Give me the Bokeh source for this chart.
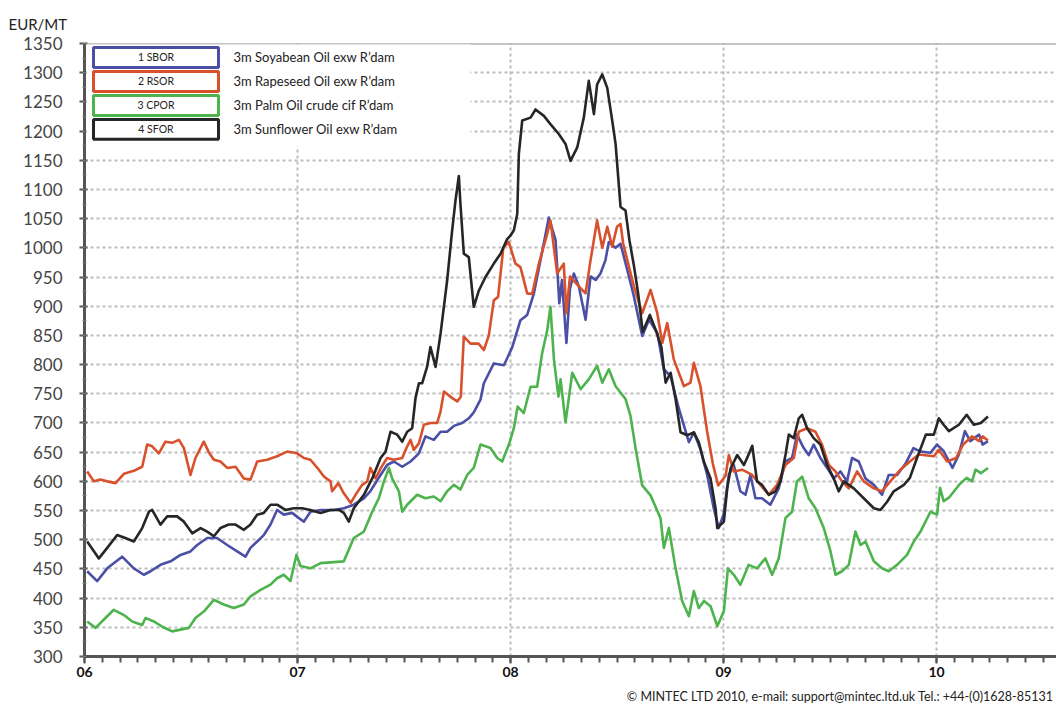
from bokeh.plotting import figure
from bokeh.models import FixedTicker, Label, BoxAnnotation, Span, Range1d, Title
from bokeh.embed import file_html
from bokeh.resources import INLINE

# time axis: months since January 2006
sbor_pts = [(0.15,446),(0.71,429),(1.28,451),(2.12,471),(2.78,451),(3.34,440),(3.72,446),(4.28,457),(4.85,463),(5.41,474),
            (5.97,480),(6.35,491),(6.91,503),(7.47,503),(8.04,491),(8.6,480),(9.07,471),(9.35,486),(9.73,497),(10.1,508),
            (10.48,526),(10.85,551),(11.23,543),(11.7,546),(12.08,537),(12.36,531),(12.73,548),(13.3,551),(14.05,551),(14.61,554),
            (15.17,560),(15.74,571),(16.1,583),(16.68,611),(17.05,628),(17.43,634),(17.9,625),(18.37,634),(18.84,648),(19.21,677),
            (19.68,671),(20.06,685),(20.43,685),(20.81,695),(21.28,700),(21.65,708),(21.93,718),(22.31,740),(22.5,768),(23.06,802),
            (23.63,799),(24.1,830),(24.56,876),(24.94,885),(25.32,922),(25.69,979),(26.16,1052),(26.54,1013),(26.75,905),(26.9,945),
            (27.15,837),(27.35,930),(27.57,956),(27.85,934),(28.23,877),(28.51,951),(28.8,945),(29.07,956),(29.35,979),(29.54,1010),
            (29.92,1000),(30.2,1007),(30.58,962),(30.95,917),(31.42,849),(31.8,877),(32.27,854),(32.64,792),(33.02,780),(33.49,724),
            (34.05,667),(34.33,684),(34.7,655),(35.08,611),(35.45,554),(35.73,520),(36.0,543),(36.3,611),(36.58,628),(36.95,583),
            (37.24,577),(37.52,611),(37.8,571),(38.17,571),(38.64,560),(39.11,588),(39.49,634),(39.86,640),(40.14,680),(40.52,657),
            (40.8,645),(41.08,663),(41.46,640),(41.84,623),(42.21,605),(42.59,617),(42.96,600),(43.24,640),(43.62,634),(44.0,605),
            (44.47,594),(44.93,577),(45.31,611),(45.78,611),(46.25,630),(46.7,657),(47.1,651),(47.66,649),(48.03,663),(48.4,652),
            (48.9,623),(49.26,646),(49.6,686),(49.9,669),(50.4,680),(50.6,663),(50.9,669)]

rsor_pts = [(0.15,617),(0.53,600),(0.9,603),(1.28,600),(1.75,597),(2.22,613),(2.78,618),(3.25,625),(3.53,663),(3.81,660),
            (4.19,648),(4.56,668),(4.94,666),(5.32,671),(5.6,657),(5.97,611),(6.25,640),(6.72,668),(7.0,650),(7.29,637),
            (7.66,634),(8.04,623),(8.51,625),(8.98,605),(9.35,603),(9.73,634),(10.29,637),(10.85,643),(11.42,651),(11.98,648),
            (12.36,640),(12.73,637),(13.2,620),(13.5,608),(13.86,600),(13.95,583),(14.3,597),(14.6,580),(15.0,563),(15.27,577),
            (15.64,594),(15.93,600),(16.1,623),(16.4,605),(16.7,623),(17.05,640),(17.43,637),(17.9,640),(18.18,660),(18.37,671),
            (18.55,654),(18.84,665),(19.12,697),(19.5,700),(19.87,700),(20.06,720),(20.25,754),(20.7,743),(21.0,737),(21.2,745),
            (21.37,848),(21.75,836),(22.2,836),(22.5,825),(22.78,850),(23.06,910),(23.3,916),(23.6,1001),(23.9,1010),(24.28,973),
            (24.56,967),(24.94,922),(25.22,921),(25.6,973),(26.07,1024),(26.25,1047),(26.63,956),(27.0,973),(27.15,888),(27.35,951),
            (27.85,934),(28.23,922),(28.51,979),(28.88,1047),(29.17,1000),(29.45,1036),(29.73,1002),(30.0,1036),(30.2,1041),(30.35,1007),
            (30.58,979),(30.95,934),(31.42,888),(31.89,928),(32.27,888),(32.55,837),(32.83,871),(33.2,809),(33.77,763),(34.14,769),
            (34.33,803),(34.7,763),(35.08,685),(35.4,630),(35.7,593),(36.0,605),(36.12,610),(36.3,645),(36.58,617),(37.05,620),
            (37.61,611),(38.08,594),(38.55,577),(39.02,594),(39.49,628),(39.96,640),(40.24,685),(40.71,691),(41.18,685),(41.55,663),
            (41.93,628),(42.31,617),(42.68,600),(43.06,588),(43.53,617),(43.9,600),(44.47,588),(44.93,583),(45.4,600),(45.97,620),
            (46.5,634),(47.0,646),(47.85,643),(48.13,654),(48.6,634),(49.1,640),(49.5,663),(50.0,677),(50.4,669),(50.6,677),(50.9,670)]

cpor_pts = [(0.15,360),(0.62,349),(1.18,366),(1.65,380),(2.22,371),(2.69,360),(3.25,354),(3.44,366),(3.91,360),(4.38,351),
            (4.94,343),(5.41,346),(5.88,349),(6.25,366),(6.72,377),(7.29,397),(7.85,389),(8.41,383),(8.98,389),(9.35,403),
            (9.92,414),(10.48,423),(10.85,434),(11.23,440),(11.6,429),(11.94,474),(12.17,455),(12.73,451),(13.3,460),(14.61,463),
            (15.17,503),(15.74,514),(16.21,548),(16.58,571),(16.87,600),(17.15,623),(17.33,605),(17.71,583),(17.9,548),(18.18,560),
            (18.74,577),(19.21,571),(19.68,574),(20.06,566),(20.43,583),(20.81,594),(21.18,586),(21.56,611),(21.93,623),(22.31,663),
            (22.87,657),(23.25,640),(23.53,634),(23.91,663),(24.19,691),(24.4,728),(24.75,717),(25.13,762),(25.5,762),(25.78,819),
            (26.07,859),(26.25,899),(26.45,808),(26.7,745),(26.82,775),(27.1,701),(27.48,786),(27.95,758),(28.42,775),(28.88,798),
            (29.17,769),(29.54,792),(29.92,763),(30.48,741),(30.76,712),(31.05,656),(31.42,593),(31.89,576),(32.45,537),(32.64,486),
            (32.92,520),(33.3,451),(33.67,395),(34.05,369),(34.33,412),(34.61,383),(34.9,395),(35.27,386),(35.65,352),(36.02,378),
            (36.25,451),(36.58,440),(36.95,423),(37.42,457),(37.89,451),(38.36,468),(38.74,440),(39.11,468),(39.49,537),(39.86,548),
            (40.14,600),(40.43,608),(40.8,571),(41.18,554),(41.65,520),(42.03,480),(42.31,440),(42.68,446),(43.06,457),(43.43,514),
            (43.72,491),(44.0,497),(44.47,463),(44.93,451),(45.31,446),(45.78,457),(46.34,474),(46.72,497),(47.1,514),(47.66,548),
            (48.03,543),(48.2,589),(48.4,566),(48.7,572),(49.3,595),(49.7,606),(50.0,600),(50.2,620),(50.5,614),(50.9,623)]

sfor_pts = [(0.15,497),(0.81,468),(1.28,486),(1.84,508),(2.3,503),(2.78,497),(3.25,520),(3.63,548),(3.81,551),(4.28,526),
            (4.66,540),(5.22,540),(5.6,531),(6.07,511),(6.54,520),(6.91,514),(7.29,506),(7.66,520),(8.13,526),(8.51,526),
            (8.98,517),(9.35,526),(9.73,543),(10.1,546),(10.48,560),(10.85,560),(11.32,551),(11.79,554),(12.26,554),(12.73,551),
            (13.3,546),(13.86,551),(14.33,551),(14.61,546),(14.89,531),(15.17,554),(15.74,577),(16.21,605),(16.68,640),(16.96,651),
            (17.24,685),(17.62,680),(17.9,668),(18.18,685),(18.46,691),(18.65,743),(18.84,768),(19.02,768),(19.3,796),(19.49,830),
            (19.78,796),(20.06,853),(20.43,944),(20.71,1029),(20.9,1081),(21.09,1123),(21.18,1075),(21.37,990),(21.65,984),(21.93,899),
            (22.22,927),(22.59,950),(23.06,973),(23.44,990),(23.81,1015),(24.0,1021),(24.19,1030),(24.38,1058),(24.47,1161),(24.66,1218),
            (25.13,1223),(25.41,1237),(25.88,1226),(26.25,1212),(26.72,1195),(27.1,1178),(27.38,1149),(27.76,1172),(28.13,1223),(28.41,1286),
            (28.7,1229),(28.88,1280),(29.17,1297),(29.45,1274),(29.73,1218),(29.92,1178),(30.2,1070),(30.48,1064),(30.7,1013),(30.95,970),
            (31.2,920),(31.45,856),(31.85,885),(32.2,858),(32.5,830),(32.74,769),(33.02,786),(33.3,741),(33.58,684),(33.96,679),
            (34.33,684),(34.61,667),(34.9,633),(35.27,605),(35.55,554),(35.65,520),(36.02,531),(36.21,588),(36.4,622),(36.77,645),
            (37.15,628),(37.33,640),(37.62,661),(37.89,600),(38.17,594),(38.55,577),(38.93,583),(39.21,600),(39.49,645),(39.68,680),
            (39.96,674),(40.24,708),(40.43,714),(40.71,691),(41.08,674),(41.46,663),(41.84,628),(42.21,605),(42.49,583),(42.78,600),
            (43.34,588),(43.9,571),(44.47,554),(44.84,551),(45.22,565),(45.59,583),(46.16,594),(46.5,606),(46.9,640),(47.4,680),
            (47.85,680),(48.13,708),(48.4,697),(48.7,686),(49.26,697),(49.7,714),(50.1,697),(50.5,700),(50.9,711)]

codes = ["1 SBOR", "2 RSOR", "3 CPOR", "4 SFOR"]
names = ["3m Soyabean Oil exw R\u2019dam", "3m Rapeseed Oil exw R\u2019dam",
         "3m Palm Oil crude cif R\u2019dam", "3m Sunflower Oil exw R\u2019dam"]
colors = ["#4b4fa6", "#d9512c", "#4db34d", "#262626"]
series = [sbor_pts, rsor_pts, cpor_pts, sfor_pts]

year_ticks = [0, 12, 24, 36, 48]
year_labels = ["06", "07", "08", "09", "10"]
y_ticks = list(range(300, 1351, 50))
unit_text = "EUR/MT"
footer_text = "\u00a9 MINTEC LTD 2010, e-mail: support@mintec.ltd.uk  Tel.: +44-(0)1628-85131"

FONT = "Lato"
W, H = 1056, 711
LEFT, TOP, BOTTOM = 84, 43, 54
X_END = (W - LEFT) / 17.75
Y0, Y1 = 300, 1350

p = figure(width=W, height=H, output_backend="svg", toolbar_location=None,
           x_range=Range1d(0, X_END), y_range=Range1d(Y0, Y1),
           min_border_left=LEFT, min_border_top=TOP, min_border_bottom=BOTTOM,
           min_border_right=0, background_fill_color="white", border_fill_color="white")
p.outline_line_color = None

# page pixel -> data helpers for decorations
FX0, FY0 = LEFT, TOP
FW, FH = W - LEFT, H - TOP - BOTTOM
def xd(px):
    return (px - FX0) / FW * X_END
def yd(py):
    return Y1 - (py - FY0) / FH * (Y1 - Y0)

# unit label (above) and footer (below)
p.add_layout(Title(text=unit_text, align="left", offset=-76, standoff=22,
                   text_font=FONT, text_font_size="15px", text_font_style="normal",
                   text_color="#222222"), "above")

# axes
p.xaxis.ticker = FixedTicker(ticks=year_ticks, minor_ticks=list(range(0, 60)))
p.xaxis.major_label_overrides = {t: l for t, l in zip(year_ticks, year_labels)}
p.xaxis.axis_line_color = "#555555"
p.xaxis.axis_line_width = 3
p.xaxis.major_tick_line_color = "#555555"
p.xaxis.major_tick_line_width = 2
p.xaxis.major_tick_out = 7
p.xaxis.major_tick_in = 0
p.xaxis.minor_tick_line_color = "#555555"
p.xaxis.minor_tick_line_width = 2
p.xaxis.minor_tick_out = 6
p.xaxis.minor_tick_in = 0
p.xaxis.major_label_text_font = FONT
p.xaxis.major_label_text_font_style = "bold"
p.xaxis.major_label_text_font_size = "14px"
p.xaxis.major_label_text_color = "#111111"
p.xaxis.major_label_standoff = 3

p.add_layout(Title(text=footer_text, align="right", standoff=15,
                   text_font=FONT, text_font_size="12.5px", text_font_style="normal",
                   text_color="#222222"), "below")

p.yaxis.ticker = FixedTicker(ticks=y_ticks, minor_ticks=list(range(300, 1351, 25)))
p.yaxis.axis_line_color = "#555555"
p.yaxis.axis_line_width = 3
p.yaxis.major_tick_line_color = "#555555"
p.yaxis.major_tick_line_width = 2
p.yaxis.major_tick_out = 5
p.yaxis.major_tick_in = 3
p.yaxis.minor_tick_line_color = "#777777"
p.yaxis.minor_tick_out = 2
p.yaxis.minor_tick_in = 2
p.yaxis.major_label_text_font = FONT
p.yaxis.major_label_text_font_size = "17px"
p.yaxis.major_label_text_color = "#444444"
p.yaxis.major_label_standoff = 17

# grid
for g in (p.xgrid, p.ygrid):
    g.grid_line_color = "#bdbdbd"
    g.grid_line_dash = "3 3"
    g.grid_line_width = 2
p.xgrid.ticker = FixedTicker(ticks=year_ticks)

p.add_layout(Span(location=Y1, dimension="width", line_color="#8a8a8a", line_width=2))

# series
order = [2, 0, 1, 3]
for i in order:
    xs = [a for a, b in series[i]]
    ys = [b for a, b in series[i]]
    p.line(xs, ys, line_color=colors[i], line_width=2.6, line_join="round")

# legend panel
p.add_layout(BoxAnnotation(left=xd(86), right=xd(470), top=yd(44), bottom=yd(146),
                           fill_color="white", fill_alpha=1.0, line_color=None))
row_y = [57, 81, 105, 129]
for i in range(4):
    cy = row_y[i]
    p.add_layout(BoxAnnotation(left=xd(93), right=xd(218), top=yd(cy - 10), bottom=yd(cy + 10),
                               fill_color="white", fill_alpha=1.0,
                               line_color=colors[i], line_alpha=1.0, line_width=3))
    p.add_layout(Label(x=xd(155.5), y=yd(cy), text=codes[i], text_align="center",
                       text_baseline="middle", text_font=FONT, text_font_size="10.5px",
                       text_color="#222222"))
    p.add_layout(Label(x=xd(233), y=yd(cy), text=names[i], text_align="left",
                       text_baseline="middle", text_font=FONT, text_font_size="13px",
                       text_color="#222222"))

open("out.html", "w").write(file_html(p, INLINE))
